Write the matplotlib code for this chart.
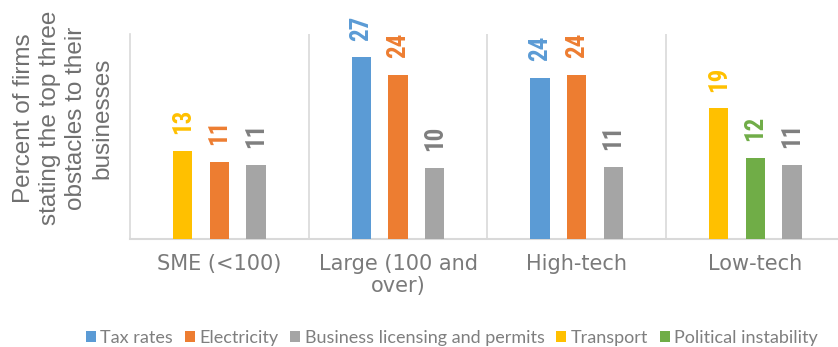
import matplotlib.pyplot as plt

# 데이터
categories = ["SME (<100)", "Large (100 and\nover)", "High-tech", "Low-tech"]
series_names = ["Tax rates", "Electricity", "Business licensing and permits",
                "Transport", "Political instability"]
# None = 해당 그룹에 없음
tax_rates = [None, 26.6, 23.6, None]
electricity = [11.3, 24.0, 24.0, None]
business_licensing = [10.9, 10.4, 10.6, 10.9]
transport = [12.9, None, None, 19.1]
political_instability = [None, None, None, 11.9]

series_values = [tax_rates, electricity, business_licensing, transport, political_instability]
bar_colors = ['#5B9BD5', '#ED7D31', '#A5A5A5', '#FFC000', '#70AD47']
label_colors = ['#5B9BD5', '#ED7D31', '#7F7F7F', '#FFC000', '#70AD47']
# 그룹 안에서 막대 자리 (왼쪽, 가운데, 오른쪽)
slots = [-1, 0, 1, -1, 0]

fig = plt.figure(figsize=(8.38, 3.47), dpi=100)
ax = fig.add_axes([130 / 838, 108 / 347, 714.7 / 838, 205 / 347])

step = 0.205
width = 0.109
for vals, name, col, lcol, slot in zip(series_values, series_names, bar_colors, label_colors, slots):
    xs = [i + slot * step for i, v in enumerate(vals) if v is not None]
    hs = [v for v in vals if v is not None]
    bars = ax.bar(xs, hs, width=width, color=col, label=name, zorder=3)
    for b, h in zip(bars, hs):
        ax.annotate(str(round(h)), (b.get_x() + b.get_width() / 2, h),
                    xytext=(0, 12), textcoords='offset points',
                    ha='center', va='bottom', rotation=90,
                    fontsize=18, fontweight='bold', color=lcol,
                    family=['Roboto Condensed', 'DejaVu Sans'])

ax.set_xlim(-0.5, 3.5)
ax.set_ylim(0, 30)
ax.set_yticks([])

# 그룹 사이 세로선
for x in [0.5, 1.5, 2.5, 3.5]:
    ax.axvline(x, color='#D9D9D9', lw=1.2, zorder=1)

ax.set_xticks(range(len(categories)))
ax.set_xticklabels(categories, fontsize=15, color='#7A7A7A', linespacing=1.1)
ax.tick_params(axis='x', length=0, pad=11)

for s in ['top', 'right']:
    ax.spines[s].set_visible(False)
ax.spines['left'].set_color('#D9D9D9')
ax.spines['left'].set_linewidth(1.2)
ax.spines['bottom'].set_color('#D9D9D9')
ax.spines['bottom'].set_linewidth(1.5)

# y축 제목
fig.text(63 / 838, 1 - 118 / 347,
         "Percent of firms\nstating the top three\nobstacles to their\nbusinesses",
         rotation=90, ha='center', va='center', multialignment='center',
         fontsize=17.5, color='#707070', family=['Liberation Sans', 'DejaVu Sans'],
         linespacing=1.24)

# 범례
fig.legend(loc='center', bbox_to_anchor=(452 / 838, 9 / 347), ncol=5, frameon=False,
           prop={'family': ['Lato', 'DejaVu Sans'], 'size': 13}, labelcolor='#7F7F7F',
           handlelength=0.55, handleheight=0.55, handletextpad=0.25,
           columnspacing=0.65, borderpad=0, borderaxespad=0)

fig.savefig('out.png', dpi=100)
